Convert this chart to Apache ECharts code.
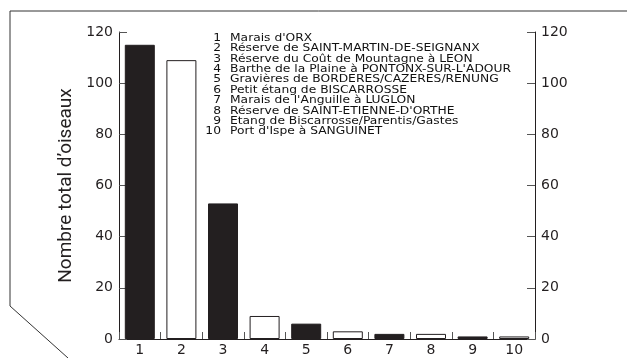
<!DOCTYPE html>
<html>
<head>
<meta charset="utf-8">
<script src="https://cdn.jsdelivr.net/npm/echarts@6/dist/echarts.min.js"></script>
<style>html,body{margin:0;padding:0;background:#fff;}#c{width:627px;height:358px;}</style>
</head>
<body>
<div id="c"></div>
<script>
var categories = ['1','2','3','4','5','6','7','8','9','10'];
var siteNames = [
  "Marais d'ORX",
  "Réserve de SAINT-MARTIN-DE-SEIGNANX",
  "Réserve du Coût de Mountagne à LEON",
  "Barthe de la Plaine à PONTONX-SUR-L'ADOUR",
  "Gravières de BORDERES/CAZERES/RENUNG",
  "Petit étang de BISCARROSSE",
  "Marais de l'Anguille à LUGLON",
  "Réserve de SAINT-ETIENNE-D'ORTHE",
  "Etang de Biscarrosse/Parentis/Gastes",
  "Port d'Ispe à SANGUINET"
];
var birdCounts = [115, 109, 53, 9, 6, 3, 2, 2, 1, 1];
var yTicks = [0, 20, 40, 60, 80, 100, 120];
var yAxisTitle = "Nombre total d\u2019oiseaux";

var chart = echarts.init(document.getElementById('c'), null, {renderer: 'canvas'});
var ink = '#231f20';
var tickFont = 'DejaVu Sans';

var barData = birdCounts.map(function (v, i) {
  var dark = (i % 2 === 0);
  return {
    value: v,
    itemStyle: { color: dark ? ink : '#ffffff', borderColor: ink, borderWidth: 1 }
  };
});

var yAxisCommon = {
  type: 'value',
  min: yTicks[0],
  max: yTicks[yTicks.length - 1],
  interval: 20,
  splitLine: { show: false },
  axisLine: { show: true, lineStyle: { color: ink, width: 1 } },
  axisTick: { show: true, inside: true, length: 8, lineStyle: { color: '#555', width: 1 } },
  axisLabel: { color: ink, fontFamily: tickFont, fontSize: 14, margin: 6 }
};

var legendGraphics = [];
var legendTop = 38, legendStep = 10.4, legendScaleX = 1.17;
siteNames.forEach(function (name, i) {
  legendGraphics.push({
    type: 'text', x: 221, y: legendTop + i * legendStep, scaleX: legendScaleX,
    style: { text: categories[i], fill: '#111', font: '10.5px "DejaVu Sans"', textAlign: 'right', textVerticalAlign: 'middle' }
  });
  legendGraphics.push({
    type: 'text', x: 230, y: legendTop + i * legendStep, scaleX: legendScaleX,
    style: { text: name, fill: '#111', font: '10.5px "DejaVu Sans"', textAlign: 'left', textVerticalAlign: 'middle' }
  });
});

var option = {
  animation: false,
  backgroundColor: '#ffffff',
  grid: { left: 119, right: 92, top: 32, bottom: 19, containLabel: false },
  xAxis: {
    type: 'category',
    data: categories,
    axisLine: { show: true, lineStyle: { color: ink, width: 1 } },
    axisTick: { show: true, inside: true, length: 7, alignWithLabel: false, interval: 0, lineStyle: { color: '#555' } },
    axisLabel: { color: ink, fontFamily: tickFont, fontSize: 14, margin: 4, interval: 0 }
  },
  yAxis: [
    Object.assign({}, yAxisCommon, {
      position: 'left',
      name: yAxisTitle,
      nameLocation: 'middle',
      nameRotate: 90,
      nameGap: 39,
      nameTextStyle: { color: ink, fontFamily: 'Roboto', fontSize: 19 }
    }),
    Object.assign({}, yAxisCommon, { position: 'right' })
  ],
  series: [{
    type: 'bar',
    data: barData,
    barWidth: 30,
    yAxisIndex: 0
  }],
  graphic: [{
    type: 'polyline',
    shape: { points: [[627, 11], [10, 11], [10, 306], [68, 358]] },
    style: { stroke: '#333', lineWidth: 1, fill: null }
  }].concat(legendGraphics)
};
chart.setOption(option);
</script>
</body>
</html>
